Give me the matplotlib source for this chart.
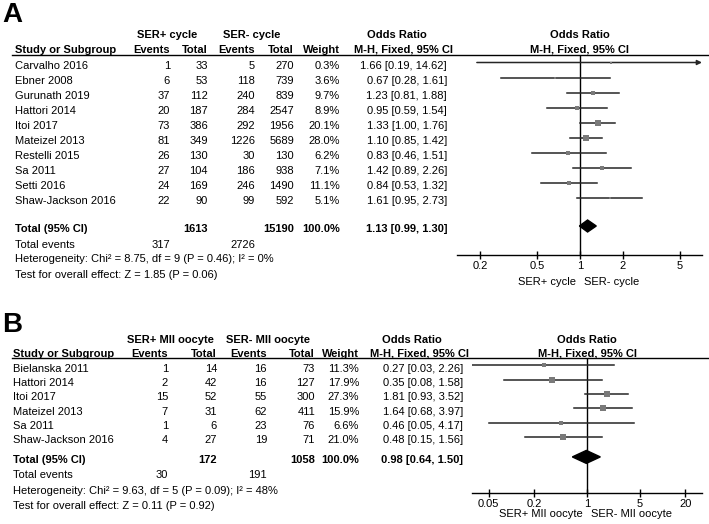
"""
Forest plots (two panels) of SER+ vs SER- outcomes, drawn RevMan style.
"""
import numpy as np
import matplotlib.pyplot as plt
from matplotlib.lines import Line2D
from matplotlib.patches import Polygon

plt.rcParams['font.family'] = ['Liberation Sans', 'DejaVu Sans']
plt.rcParams['font.size'] = 8

W, H = 709, 524

# ---- Panel A: per cycle
a_studies = ["Carvalho 2016", "Ebner 2008", "Gurunath 2019", "Hattori 2014", "Itoi 2017",
             "Mateizel 2013", "Restelli 2015", "Sa 2011", "Setti 2016", "Shaw-Jackson 2016"]
a_pos_events = [1, 6, 37, 20, 73, 81, 26, 27, 24, 22]
a_pos_total = [33, 53, 112, 187, 386, 349, 130, 104, 169, 90]
a_neg_events = [5, 118, 240, 284, 292, 1226, 30, 186, 246, 99]
a_neg_total = [270, 739, 839, 2547, 1956, 5689, 130, 938, 1490, 592]
a_weight = [0.3, 3.6, 9.7, 8.9, 20.1, 28.0, 6.2, 7.1, 11.1, 5.1]
a_or = [1.66, 0.67, 1.23, 0.95, 1.33, 1.10, 0.83, 1.42, 0.84, 1.61]
a_lo = [0.19, 0.28, 0.81, 0.59, 1.00, 0.85, 0.46, 0.89, 0.53, 0.95]
a_hi = [14.62, 1.61, 1.88, 1.54, 1.76, 1.42, 1.51, 2.26, 1.32, 2.73]
a_totals = [1613, 15190]
a_total_events = [317, 2726]
a_pooled = [1.13, 0.99, 1.30]          # OR, lower, upper
a_het = [8.75, 9, 0.46, 0]             # Chi2, df, P, I2
a_effect = [1.85, 0.06]                # Z, P
a_groups = ["SER+ cycle", "SER- cycle"]
a_ticks = [0.2, 0.5, 1, 2, 5]

# ---- Panel B: per MII oocyte
b_studies = ["Bielanska 2011", "Hattori 2014", "Itoi 2017", "Mateizel 2013", "Sa 2011",
             "Shaw-Jackson 2016"]
b_pos_events = [1, 2, 15, 7, 1, 4]
b_pos_total = [14, 42, 52, 31, 6, 27]
b_neg_events = [16, 16, 55, 62, 23, 19]
b_neg_total = [73, 127, 300, 411, 76, 71]
b_weight = [11.3, 17.9, 27.3, 15.9, 6.6, 21.0]
b_or = [0.27, 0.35, 1.81, 1.64, 0.46, 0.48]
b_lo = [0.03, 0.08, 0.93, 0.68, 0.05, 0.15]
b_hi = [2.26, 1.58, 3.52, 3.97, 4.17, 1.56]
b_totals = [172, 1058]
b_total_events = [30, 191]
b_pooled = [0.98, 0.64, 1.50]
b_het = [9.63, 5, 0.09, 48]
b_effect = [0.11, 0.92]
b_groups = ["SER+ MII oocyte", "SER- MII oocyte"]
b_ticks = [0.05, 0.2, 1, 5, 20]

# pixel layout of each panel
LAYOUT_A = dict(letter="A", letter_y=22, head1=37.7, head2=53, rule=54.5,
                row0=69, step=15, total_off=0.9, sum_step=1.0,
                cols=[15, 170, 208, 255, 294, 340, 447], grp_x=[167, 252],
                or_head=397, mh_head=404, plot_x=(457, 702), axis_y=255,
                one_px=580, decade_px=143, side_lab=285, dia_h=6)
LAYOUT_B = dict(letter="B", letter_y=332, head1=342.7, head2=356.7, rule=358.3,
                row0=371.7, step=14.33, total_off=0.4, sum_step=1.05,
                cols=[13, 168, 217, 267, 315, 359, 463], grp_x=[170, 268],
                or_head=412, mh_head=420, plot_x=(472, 702), axis_y=493,
                one_px=587, decade_px=75.7, side_lab=517, dia_h=6.5)

SQUARE = "#7a7a7a"
CI_LINE = "#262626"


def ftext(fig, x, y, s, **kw):
    kw.setdefault("va", "baseline")
    fig.text(x / W, 1 - y / H, s, **kw)


def draw_panel(fig, L, studies, pe, pt, ne, nt, weight, est, lo, hi,
               totals, tot_events, pooled, het, effect, groups, ticks):
    n = len(studies)
    c = L["cols"]
    row_y = lambda r: L["row0"] + L["step"] * r

    ftext(fig, 2, L["letter_y"], L["letter"], fontsize=20, fontweight="bold")

    # header
    bold = dict(fontweight="bold")
    ftext(fig, L["grp_x"][0], L["head1"], groups[0], ha="center", **bold)
    ftext(fig, L["grp_x"][1], L["head1"], groups[1], ha="center", **bold)
    ftext(fig, L["or_head"], L["head1"], "Odds Ratio", ha="center", **bold)
    ftext(fig, L["one_px"], L["head1"], "Odds Ratio", ha="center", **bold)
    ftext(fig, c[0], L["head2"], "Study or Subgroup", ha="left", **bold)
    for x, s in zip(c[1:6], ["Events", "Total", "Events", "Total", "Weight"]):
        ftext(fig, x, L["head2"], s, ha="right", **bold)
    ftext(fig, L["mh_head"], L["head2"], "M-H, Fixed, 95% CI", ha="center", **bold)
    ftext(fig, L["one_px"], L["head2"], "M-H, Fixed, 95% CI", ha="center", **bold)
    fig.add_artist(Line2D([12 / W, 1], [1 - L["rule"] / H] * 2,
                          transform=fig.transFigure, color="black", lw=1))

    # study rows
    for i in range(n):
        y = row_y(i)
        ftext(fig, c[0], y, studies[i], ha="left")
        cells = [pe[i], pt[i], ne[i], nt[i], f"{weight[i]:.1f}%",
                 f"{est[i]:.2f} [{lo[i]:.2f}, {hi[i]:.2f}]"]
        for x, s in zip(c[1:], cells):
            ftext(fig, x, y, str(s), ha="right")

    # summary rows
    r_tot = n + L["total_off"]
    y = row_y(r_tot)
    ftext(fig, c[0], y, "Total (95% CI)", ha="left", **bold)
    ftext(fig, c[2], y, str(totals[0]), ha="right", **bold)
    ftext(fig, c[4], y, str(totals[1]), ha="right", **bold)
    ftext(fig, c[5], y, "100.0%", ha="right", **bold)
    ftext(fig, c[6], y, f"{pooled[0]:.2f} [{pooled[1]:.2f}, {pooled[2]:.2f}]",
          ha="right", **bold)
    y = row_y(r_tot + L["sum_step"])
    ftext(fig, c[0], y, "Total events", ha="left")
    ftext(fig, c[1], y, str(tot_events[0]), ha="right")
    ftext(fig, c[3], y, str(tot_events[1]), ha="right")
    y = row_y(r_tot + 2 * L["sum_step"])
    ftext(fig, c[0], y, f"Heterogeneity: Chi\u00b2 = {het[0]:.2f}, df = {het[1]} "
          f"(P = {het[2]:.2f}); I\u00b2 = {het[3]}%", ha="left")
    y = row_y(r_tot + 3 * L["sum_step"])
    ftext(fig, c[0], y, f"Test for overall effect: Z = {effect[0]:.2f} "
          f"(P = {effect[1]:.2f})", ha="left")

    # forest axes; data y = row index (row centre sits 6.5 px above baseline)
    x0, x1 = L["plot_x"]
    c0 = L["row0"] - 6.5
    ax = fig.add_axes([x0 / W, 1 - L["axis_y"] / H, (x1 - x0) / W,
                       (L["axis_y"] - L["rule"]) / H])
    ax.set_xscale("log")
    xmin = 10 ** ((x0 - L["one_px"]) / L["decade_px"])
    xmax = 10 ** ((x1 - L["one_px"]) / L["decade_px"])
    ax.set_xlim(xmin, xmax)
    ax.set_ylim((L["axis_y"] - c0) / L["step"], (L["rule"] - c0) / L["step"])
    ax.patch.set_visible(False)
    for s in ["top", "left", "right"]:
        ax.spines[s].set_visible(False)
    ax.spines["bottom"].set_linewidth(1)
    ax.set_yticks([])
    ax.set_xticks(ticks)
    ax.set_xticklabels([f"{t:g}" for t in ticks])
    ax.minorticks_off()
    ax.tick_params(axis="x", direction="inout", length=6, width=1, pad=1.5,
                   labelsize=8)
    ax.axvline(1, color="black", lw=1)

    for i in range(n):
        if hi[i] > xmax:
            ax.annotate("", xy=(xmax, i), xytext=(lo[i], i), annotation_clip=False,
                        arrowprops=dict(arrowstyle="-|>", color=CI_LINE, lw=1.1,
                                        shrinkA=0, shrinkB=0, mutation_scale=7))
        else:
            ax.plot([lo[i], hi[i]], [i, i], color=CI_LINE, lw=1.1)
        side = max(1.3 * np.sqrt(weight[i]), 2.2) * 0.72
        ax.plot(est[i], i, marker="s", ms=side, color=SQUARE, mec=SQUARE, mew=0,
                zorder=3)

    dh = L["dia_h"] / L["step"]
    ax.add_patch(Polygon([(pooled[1], r_tot), (pooled[0], r_tot - dh),
                          (pooled[2], r_tot), (pooled[0], r_tot + dh)],
                         closed=True, color="black", zorder=4))

    off = -(L["side_lab"] - L["axis_y"]) * 72 / 100
    ax.annotate(groups[0], xy=(1, 0), xycoords=("data", "axes fraction"),
                xytext=(-3, off), textcoords="offset points", ha="right",
                va="baseline")
    ax.annotate(groups[1], xy=(1, 0), xycoords=("data", "axes fraction"),
                xytext=(3, off), textcoords="offset points", ha="left",
                va="baseline")


fig = plt.figure(figsize=(W / 100, H / 100), dpi=100)
draw_panel(fig, LAYOUT_A, a_studies, a_pos_events, a_pos_total, a_neg_events,
           a_neg_total, a_weight, a_or, a_lo, a_hi, a_totals, a_total_events,
           a_pooled, a_het, a_effect, a_groups, a_ticks)
draw_panel(fig, LAYOUT_B, b_studies, b_pos_events, b_pos_total, b_neg_events,
           b_neg_total, b_weight, b_or, b_lo, b_hi, b_totals, b_total_events,
           b_pooled, b_het, b_effect, b_groups, b_ticks)
fig.savefig("out.png", dpi=100)
